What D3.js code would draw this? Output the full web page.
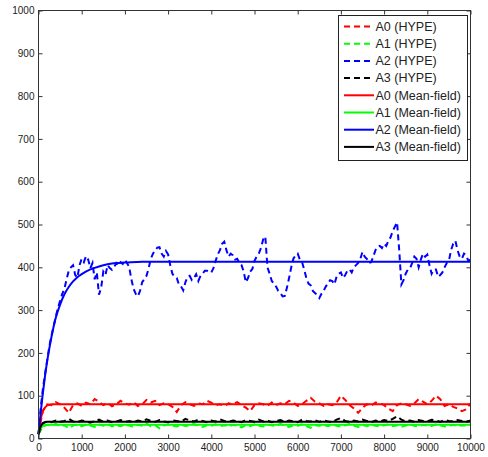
<!DOCTYPE html>
<html>
<head>
<meta charset="utf-8">
<script src="https://cdn.jsdelivr.net/npm/d3@7/dist/d3.min.js"></script>
<style>
  body { margin: 0; background: #fff; }
  text { font-family: "Liberation Sans", Arial, Helvetica, sans-serif; }
</style>
</head>
<body>
<div id="chart_area"></div>
<script>

// Simulation time of the HYPE runs (A2 sampled every 50, the others every 100)
var hypeTimeFine = d3.range(0, 10001, 50);
var hypeTime = d3.range(0, 10001, 100);

var hypeA2 = [10, 70, 115, 150, 182, 215, 240, 262, 285, 305,
  322, 338, 350, 372, 392, 400, 405, 382, 376, 405,
  420, 412, 426, 418, 398, 410, 372, 388, 336, 352,
  390, 382, 405, 398, 394, 400, 410, 404, 412, 408,
  418, 410, 400, 372, 350, 338, 332, 345, 365, 372,
  380, 398, 420, 432, 440, 446, 447, 432, 425, 438,
  430, 405, 385, 378, 375, 360, 355, 346, 365, 378,
  380, 370, 375, 384, 368, 380, 385, 392, 392, 388,
  388, 398, 415, 430, 440, 455, 460, 440, 425, 432,
  428, 418, 420, 410, 405, 390, 365, 375, 390, 396,
  415, 425, 432, 445, 465, 472, 400, 385, 368, 362,
  355, 345, 340, 332, 333, 352, 375, 400, 420, 428,
  432, 418, 412, 395, 375, 362, 358, 345, 340, 335,
  328, 338, 345, 355, 362, 370, 368, 360, 378, 385,
  388, 375, 382, 392, 395, 388, 400, 405, 410, 420,
  436, 425, 420, 410, 412, 425, 440, 448, 450, 445,
  455, 450, 462, 470, 485, 495, 505, 440, 360, 370,
  385, 395, 398, 410, 425, 420, 400, 418, 432, 425,
  430, 405, 385, 395, 395, 378, 382, 388, 400, 410,
  415, 440, 455, 462, 440, 425, 420, 432, 428, 415,
  418];

var hypeA0 = [12, 65, 80, 78, 85, 80, 72, 60, 78, 82,
  76, 84, 80, 92, 86, 78, 83, 75, 80, 88,
  82, 79, 85, 76, 80, 90, 84, 88, 78, 82,
  80, 74, 62, 78, 85, 80, 76, 82, 80, 88,
  84, 78, 80, 76, 82, 80, 85, 78, 72, 64,
  78, 82, 80, 76, 84, 78, 82, 80, 88, 84,
  76, 80, 88, 95, 86, 82, 76, 80, 78, 84,
  100, 90, 78, 70, 60, 72, 80, 76, 84, 82,
  78, 70, 64, 78, 82, 80, 76, 82, 92, 86,
  80, 88, 100, 92, 76, 80, 74, 70, 64, 68,
  82];

var hypeA1 = [10, 28, 32, 30, 34, 28, 31, 24, 30, 33,
  29, 32, 30, 27, 33, 30, 34, 28, 31, 29,
  33, 30, 27, 32, 30, 35, 29, 31, 24, 30,
  33, 30, 28, 32, 29, 31, 34, 30, 27, 31,
  30, 33, 29, 31, 28, 32, 30, 26, 31, 29,
  33, 30, 28, 32, 31, 29, 34, 30, 27, 31,
  30, 33, 29, 25, 31, 30, 32, 29, 33, 30,
  28, 31, 34, 30, 27, 31, 29, 32, 30, 28,
  31, 33, 29, 31, 27, 30, 33, 30, 28, 32,
  30, 29, 33, 31, 28, 30, 32, 29, 31, 30,
  32];

var hypeA3 = [10, 36, 40, 38, 42, 39, 41, 46, 40, 38,
  42, 40, 37, 41, 44, 39, 42, 38, 40, 43,
  39, 41, 38, 42, 40, 45, 41, 39, 43, 40,
  38, 42, 41, 39, 46, 42, 40, 44, 41, 38,
  42, 40, 45, 41, 39, 42, 40, 38, 43, 41,
  39, 44, 40, 42, 38, 41, 43, 39, 42, 40,
  38, 44, 41, 40, 43, 39, 42, 40, 38, 44,
  48, 41, 39, 42, 40, 44, 41, 38, 42, 40,
  43, 41, 46, 52, 44, 40, 42, 39, 43, 41,
  40, 44, 42, 39, 43, 41, 40, 43, 41, 39,
  42];

// Mean-field solution, read at uneven times
var mfTime = [0, 50, 100, 150, 200, 250, 300, 400, 500, 600, 700, 800, 900, 1000, 1200, 1400, 1600, 1800, 2000, 2400, 10000];
var mfA0 = [10, 45, 63, 72, 77, 79, 80, 80, 80, 80, 80, 80, 80, 80, 80, 80, 80, 80, 80, 80, 80];
var mfA1 = [10, 24, 29, 31, 32, 32, 32, 32, 32, 32, 32, 32, 32, 32, 32, 32, 32, 32, 32, 32, 32];
var mfA2 = [10, 60, 105, 145, 180, 210, 237, 282, 313, 337, 354, 367, 377, 384, 395, 402, 407, 410, 411, 413, 413];
var mfA3 = [10, 28, 35, 38, 39, 39, 39, 39, 39, 39, 39, 39, 39, 39, 39, 39, 39, 39, 39, 39, 39];

var xTicks = d3.range(0, 10001, 1000);
var yTicks = d3.range(0, 1001, 100);

var seriesNames = ["A0 (HYPE)", "A1 (HYPE)", "A2 (HYPE)", "A3 (HYPE)",
  "A0 (Mean-field)", "A1 (Mean-field)", "A2 (Mean-field)", "A3 (Mean-field)"];
var seriesColors = ["#ff0000", "#00ff00", "#0000ff", "#000000",
  "#ff0000", "#00ff00", "#0000ff", "#000000"];

// Frame
var frame_width = 488;
var frame_height = 457;
var frame = d3.select("#chart_area").append("svg")
    .attr("width", frame_width)
    .attr("height", frame_height);

frame.append("rect")
    .attr("width", frame_width)
    .attr("height", frame_height)
    .attr("fill", "#fff");

// Scales
var xScale = d3.scaleLinear().domain([0, 10000]).range([38.5, 470.5]);
var yScale = d3.scaleLinear().domain([0, 1000]).range([438.5, 10.5]);

// Build the series table
function zipSeries(times, vals) {
  return times.map(function(t, i) { return {t: t, v: vals[i]}; });
}
var hypeSeries = [
  zipSeries(hypeTime, hypeA0),
  zipSeries(hypeTime, hypeA1),
  zipSeries(hypeTimeFine, hypeA2),
  zipSeries(hypeTime, hypeA3)
];
var mfSeries = [mfA0, mfA1, mfA2, mfA3].map(function(vals) { return zipSeries(mfTime, vals); });

var line = d3.line()
    .x(function(d) { return xScale(d.t); })
    .y(function(d) { return yScale(d.v); });
var smoothLine = d3.line()
    .x(function(d) { return xScale(d.t); })
    .y(function(d) { return yScale(d.v); })
    .curve(d3.curveMonotoneX);

// Data lines
var data_canvas = frame.append("g").attr("class", "data_canvas");

data_canvas.selectAll(".hype")
    .data(hypeSeries)
    .enter().append("path")
    .attr("class", "hype")
    .attr("d", line)
    .attr("fill", "none")
    .attr("stroke", function(d, i) { return seriesColors[i]; })
    .attr("stroke-width", 2)
    .attr("stroke-dasharray", "6,4");

data_canvas.selectAll(".mf")
    .data(mfSeries)
    .enter().append("path")
    .attr("class", "mf")
    .attr("d", smoothLine)
    .attr("fill", "none")
    .attr("stroke", function(d, i) { return seriesColors[i + 4]; })
    .attr("stroke-width", 2);

// Axes, ticks pointing inward on all four sides
var axisColor = "#333";

function styleAxis(g) {
  g.select(".domain").remove();
  g.selectAll(".tick line").attr("stroke", axisColor);
  g.selectAll(".tick text")
      .attr("fill", "#222")
      .style("font-size", "10px")
      .style("font-family", "'Liberation Sans', Arial, Helvetica, sans-serif");
}

frame.append("g")
    .attr("transform", "translate(0," + yScale(0) + ")")
    .call(d3.axisBottom(xScale).tickValues(xTicks).tickFormat(d3.format("d")).tickSize(-4).tickPadding(5))
    .call(styleAxis);

frame.append("g")
    .attr("transform", "translate(0," + yScale(1000) + ")")
    .call(d3.axisTop(xScale).tickValues(xTicks).tickFormat("").tickSize(-4))
    .call(styleAxis);

frame.append("g")
    .attr("transform", "translate(" + xScale(0) + ",0)")
    .call(d3.axisLeft(yScale).tickValues(yTicks).tickFormat(d3.format("d")).tickSize(-4).tickPadding(4))
    .call(styleAxis);

frame.append("g")
    .attr("transform", "translate(" + xScale(10000) + ",0)")
    .call(d3.axisRight(yScale).tickValues(yTicks).tickFormat("").tickSize(-4))
    .call(styleAxis);

// Box round the plot
frame.append("rect")
    .attr("x", xScale(0))
    .attr("y", yScale(1000))
    .attr("width", xScale(10000) - xScale(0))
    .attr("height", yScale(0) - yScale(1000))
    .attr("fill", "none")
    .attr("stroke", axisColor)
    .attr("stroke-width", 1);

// Legend
var legend = frame.append("g").attr("class", "legend");

legend.append("rect")
    .attr("x", 338.5)
    .attr("y", 15.5)
    .attr("width", 129)
    .attr("height", 145)
    .attr("fill", "#fff")
    .attr("stroke", "#222")
    .attr("stroke-width", 1);

var entry = legend.selectAll(".entry")
    .data(seriesNames)
    .enter().append("g")
    .attr("class", "entry")
    .attr("transform", function(d, i) { return "translate(0," + (26.5 + i * 17.2) + ")"; });

entry.append("line")
    .attr("x1", 344)
    .attr("x2", 374)
    .attr("stroke", function(d, i) { return seriesColors[i]; })
    .attr("stroke-width", 2)
    .attr("stroke-dasharray", function(d, i) { return i < 4 ? "6,4" : null; });

entry.append("text")
    .attr("x", 375.5)
    .attr("dy", "0.35em")
    .attr("fill", "#222")
    .style("font-size", "12.5px")
    .text(function(d) { return d; });

</script>
</body>
</html>
